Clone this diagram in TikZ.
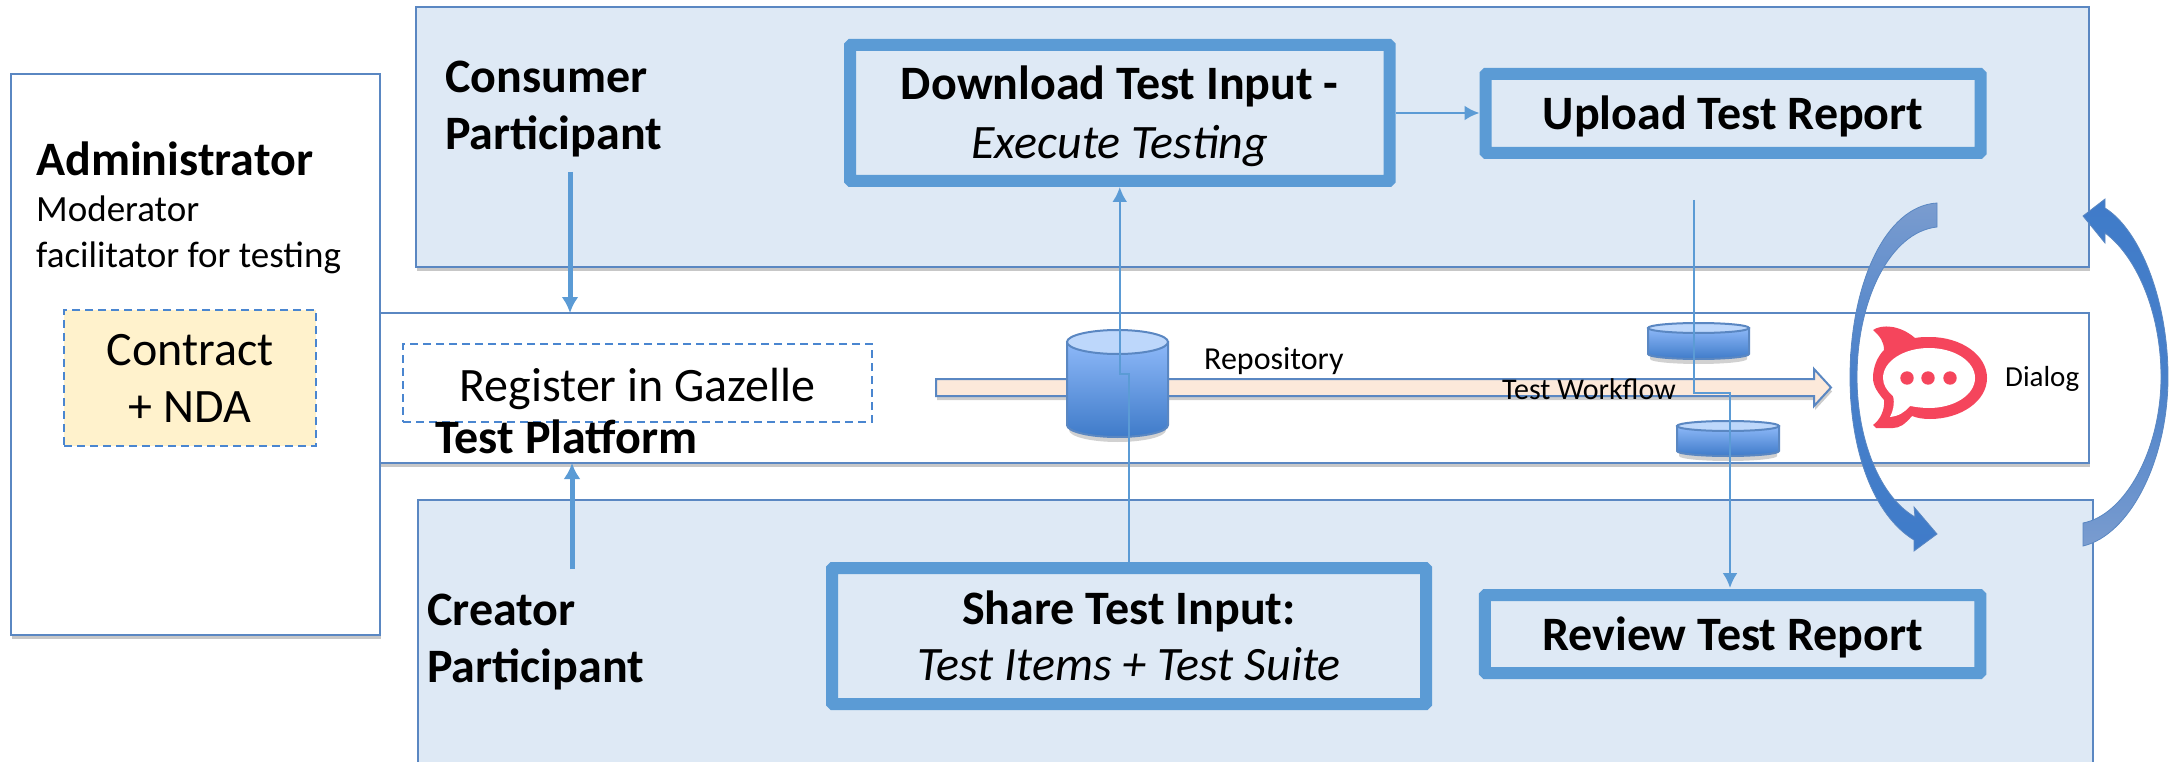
\documentclass[tikz,border=0pt]{standalone}
\usepackage{fontspec}
\setmainfont{Carlito}
\usetikzlibrary{arrows.meta,shadows}
\definecolor{panelfill}{HTML}{DEE9F5}
\definecolor{panelline}{HTML}{5A87C2}
\definecolor{thickline}{HTML}{5B9BD5}
\definecolor{noteyellow}{HTML}{FFF2CC}
\definecolor{dashblue}{HTML}{4A86D0}
\definecolor{flowfill}{HTML}{FCE9DA}
\definecolor{cyldark}{HTML}{3F7BC9}
\definecolor{cyllight}{HTML}{8DB8F8}
\definecolor{cyltop}{HTML}{BDD7FB}
\definecolor{loopdark}{HTML}{3F7BC9}
\definecolor{looplight}{HTML}{7A9CCF}
\definecolor{rcred}{HTML}{F5455C}
\tikzset{
  softshadow/.style={drop shadow={shadow xshift=1pt,shadow yshift=-4pt,opacity=.22,fill=black}},
  panel/.style={draw=panelline,line width=2pt,fill=panelfill,inner sep=0pt,softshadow},
  whitepanel/.style={draw=panelline,line width=2pt,fill=white,inner sep=0pt,softshadow},
  stepbox/.style={draw=thickline,line width=12pt,rounded corners=1pt,fill=panelfill,inner sep=0pt,align=center,font=\fontsize{48}{58}\selectfont\bfseries},
  dashbox/.style={draw=dashblue,line width=1.8pt,dash pattern=on 8pt off 5pt,inner sep=0pt,align=center},
  rolelabel/.style={anchor=west,inner sep=0pt,align=left,font=\fontsize{48}{57}\selectfont\bfseries},
  thinflow/.style={draw=thickline,line width=2.5pt,-{Latex[length=15pt,width=15pt]}},
  thickflow/.style={draw=thickline,line width=5pt,-{Latex[length=16pt,width=17pt]}},
  cylbody/.style={draw=panelline,line width=2pt,top color=cyllight,bottom color=cyldark},
  cyllid/.style={draw=panelline,line width=2pt,fill=cyltop},
}
\newcommand{\dbcyl}[5]{% x0 x1 ytop ybot ry
  \pgfmathsetmacro{\cylrx}{(#2-#1)/2}
  \fill[black,opacity=.18] (#1+2,#3+#5) -- (#1+2,#4-#5+5) arc[start angle=180,end angle=0,x radius=\cylrx pt-2pt,y radius=-#5 pt] -- (#2-2,#3+#5) -- cycle;
  \path[cylbody] (#1,#3+#5) -- (#1,#4-#5) arc[start angle=180,end angle=0,x radius=\cylrx pt,y radius=-#5 pt] -- (#2,#3+#5) -- cycle;
  \path[cyllid] (#1+\cylrx,#3+#5) ellipse[x radius=\cylrx pt,y radius=#5 pt];
}
\begin{document}
\begin{tikzpicture}[x=1pt,y=-1pt]
\useasboundingbox (0,0) rectangle (2169,762);
% panels
\node[whitepanel,minimum width=1709pt,minimum height=150pt] (platform) at (1234.5,388) {};
\node[panel,minimum width=1673pt,minimum height=260pt] (consumer) at (1252.5,137) {};
\node[panel,minimum width=1675pt,minimum height=263pt] (creator) at (1255.5,631.5) {};
\node[whitepanel,minimum width=369pt,minimum height=561pt] (admin) at (195.5,354.5) {};
% administrator
\node[anchor=west,inner sep=0pt,font=\fontsize{48}{50}\selectfont\bfseries] (admintitle) at (36,159) {Administrator};
\node[anchor=west,inner sep=0pt,font=\fontsize{37}{40}\selectfont] (modline) at (36,209) {Moderator};
\node[anchor=west,inner sep=0pt,font=\fontsize{37}{40}\selectfont] (facline) at (36,258) {facilitator for testing};
\node[dashbox,fill=noteyellow,minimum width=252pt,minimum height=136pt,font=\fontsize{48}{57}\selectfont] (contract) at (190,378) {Contract\\+ NDA};
% platform
\node[dashbox,minimum width=469pt,minimum height=78pt,font=\fontsize{48}{50}\selectfont] (register) at (637.5,383) {\rule{0pt}{46pt}Register in Gazelle};
\node[anchor=west,inner sep=0pt,font=\fontsize{48}{50}\selectfont\bfseries] (platformlabel) at (435,437) {Test Platform};
% role labels
\node[rolelabel] (consumerlabel) at (445,109) {Consumer\\Participant};
\node[rolelabel] (creatorlabel) at (427,642) {Creator\\Participant};
% step boxes
\node[stepbox,minimum width=539.5pt,minimum height=136pt] (download) at (1119.75,113) {\rule{0pt}{41pt}Download Test Input -\\[1pt]{\mdseries\itshape Execute Testing}};
\node[stepbox,minimum width=495pt,minimum height=79pt] (upload) at (1733,113.4) {\rule{0pt}{40pt}Upload Test Report};
\node[stepbox,minimum width=594pt,minimum height=136pt] (share) at (1129,636) {Share Test Input:\\[-2pt]{\mdseries\itshape Test Items + Test Suite}};
\node[stepbox,minimum width=495.5pt,minimum height=78pt] (review) at (1732.7,634) {\rule{0pt}{40pt}Review Test Report};
% workflow arrow
\path[draw=panelline,line width=2pt,fill=flowfill,drop shadow={shadow xshift=1pt,shadow yshift=-4pt,opacity=.2,fill=black}]
  (936,379) -- (1814,379) -- (1814,369) -- (1831,387.5) -- (1814,406) -- (1814,396) -- (936,396) -- cycle;
% cylinders
\dbcyl{1067}{1168}{330}{437}{12}
\dbcyl{1648}{1749}{323}{359}{5}
\dbcyl{1677}{1779}{421}{456}{5}
% small labels
\node[anchor=west,inner sep=0pt,font=\fontsize{32}{36}\selectfont] (repolabel) at (1204,361) {Repository};
\node[anchor=west,inner sep=0pt,font=\fontsize{30}{36}\selectfont] (flowlabel) at (1502,389) {Test Workflow};
\node[anchor=west,inner sep=0pt,font=\fontsize{29}{36}\selectfont] (dialoglabel) at (2005,379) {Dialog};
% connectors
\coordinate (uploadtail) at (1694,200);
\coordinate (reviewin) at (1730,588);
\draw[thickflow] (570,172) -- (570,313);
\draw[thickflow] (572,569) -- (572,463);
\draw[thinflow] (download.east) -- (upload.west |- download.east);
\draw[thinflow] (share.north) -- (share.north |- 0,374) -- (download.south |- 0,374) -- (download.south);
\draw[thinflow] (uploadtail) -- (uploadtail |- 0,393) -- (reviewin |- 0,393) -- (reviewin);
% curved arrows
\path[top color=looplight,bottom color=loopdark,middle color=loopdark!85!looplight,draw=panelline,line width=.8pt]
  (1937,203) .. controls (1885,206) and (1850,285) .. (1850,377)
  .. controls (1850,450) and (1873,515) .. (1914,540)
  -- (1914,551) -- (1937,534) -- (1914,507) -- (1915,517)
  .. controls (1880,497) and (1857,440) .. (1857,377)
  .. controls (1857,300) and (1890,232) .. (1937,227) -- cycle;
\path[top color=loopdark,bottom color=looplight,middle color=loopdark!85!looplight,draw=panelline,line width=.8pt]
  (2083,216) -- (2105,199) -- (2105,208)
  .. controls (2140,230) and (2168,300) .. (2168,377)
  .. controls (2168,460) and (2130,535) .. (2083,546)
  -- (2083,523)
  .. controls (2125,515) and (2161,450) .. (2161,377)
  .. controls (2161,310) and (2135,255) .. (2105,233)
  -- (2105,243) -- cycle;
% chat logo
\fill[rcred] (1930,337) .. controls (1961,337) and (1987,355) .. (1987,378)
  .. controls (1987,401) and (1961,419) .. (1930,419)
  .. controls (1923,419) and (1917,418) .. (1912,416)
  .. controls (1905,424) and (1900,428) .. (1893,428)
  -- (1876,428) -- (1873,425)
  .. controls (1880,420) and (1885,410) .. (1884,400)
  .. controls (1878,393) and (1873,386) .. (1873,378)
  .. controls (1873,366) and (1878,356) .. (1884,350)
  .. controls (1884,342) and (1880,336) .. (1873,330)
  .. controls (1882,324) and (1900,325) .. (1915,338)
  .. controls (1920,337) and (1925,337) .. (1930,337) -- cycle;
\fill[white] (1929,348) .. controls (1954,348) and (1975,361) .. (1975,378)
  .. controls (1975,395) and (1954,408) .. (1929,408)
  .. controls (1922,408) and (1916,407) .. (1910,406)
  .. controls (1905,412) and (1899,416) .. (1890,417)
  .. controls (1893,411) and (1895,404) .. (1893,396)
  .. controls (1887,391) and (1883,385) .. (1883,378)
  .. controls (1883,361) and (1904,348) .. (1929,348) -- cycle;
\fill[rcred] (1907,378) circle[radius=6.7pt] (1928,378) circle[radius=6.7pt] (1950,378) circle[radius=6.7pt];
\end{tikzpicture}
\end{document}
